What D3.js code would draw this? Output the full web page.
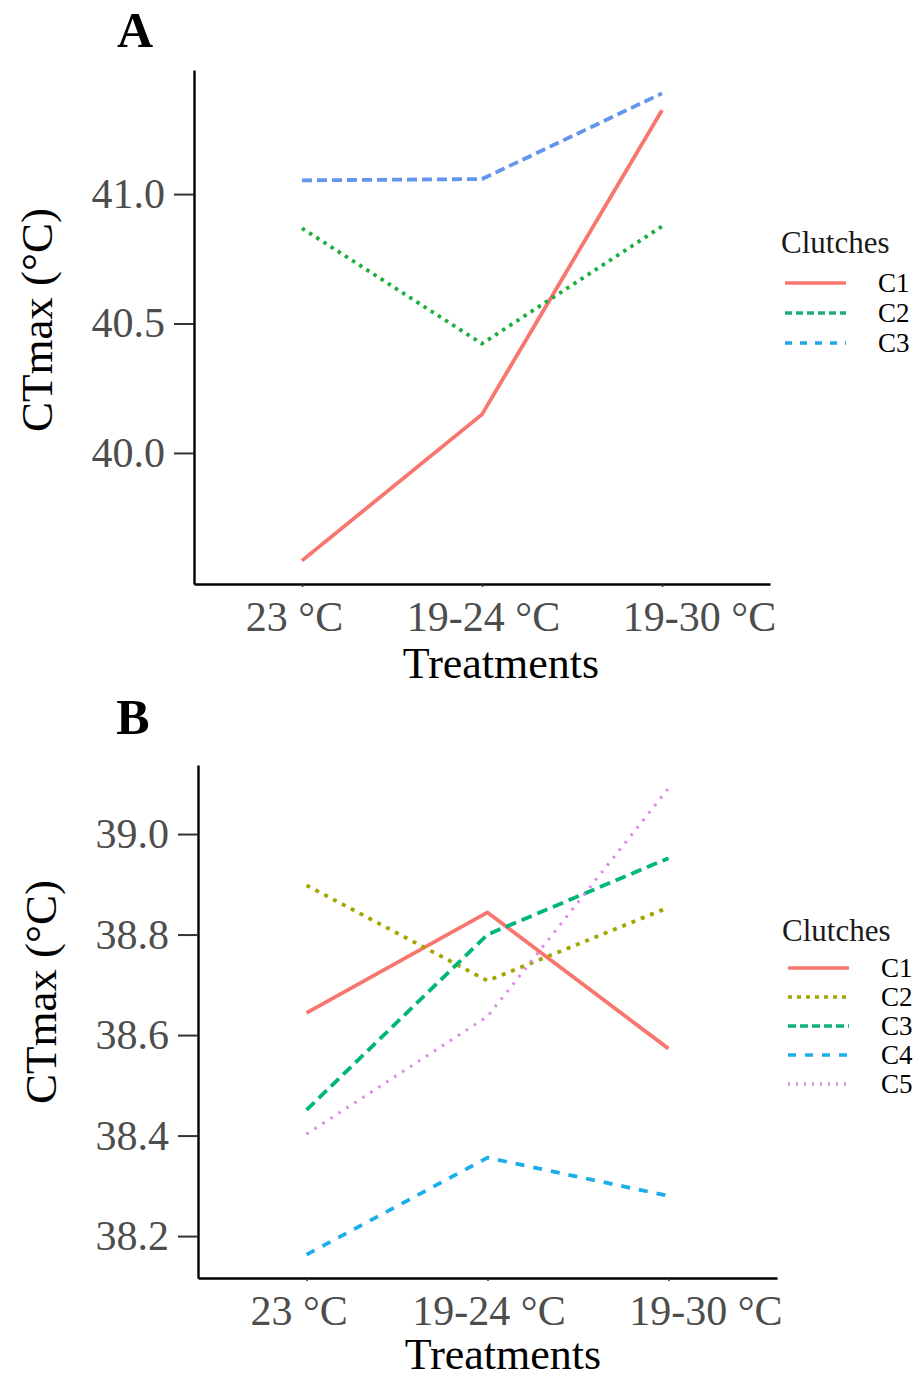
<!DOCTYPE html>
<html>
<head>
<meta charset="utf-8">
<script src="https://cdn.jsdelivr.net/npm/d3@7"></script>
<style>
  html, body { margin: 0; padding: 0; background: #fff; }
  svg { display: block; }
  text { font-family: "Liberation Serif", "DejaVu Serif", serif; }
</style>
</head>
<body>
<svg id="fig" width="923" height="1380"></svg>
<script>
// Treatments on the x axis (shared by both panels)
const treatments = ["23 °C", "19-24 °C", "19-30 °C"];

// Panel A: mean CTmax per clutch
const clutchesA = ["C1", "C2", "C3"];
const panelA_C1 = [39.584, 40.149, 41.324];
const panelA_C2 = [40.868, 40.422, 40.875];
const panelA_C3 = [41.053, 41.058, 41.389];
const ticksA = [40.0, 40.5, 41.0];

// Panel B: mean CTmax per clutch
const clutchesB = ["C1", "C2", "C3", "C4", "C5"];
const panelB_C1 = [38.644, 38.844, 38.573];
const panelB_C2 = [38.898, 38.708, 38.854];
const panelB_C3 = [38.451, 38.800, 38.952];
const panelB_C4 = [38.163, 38.356, 38.280];
const panelB_C5 = [38.403, 38.637, 39.091];
const ticksB = [38.2, 38.4, 38.6, 38.8, 39.0];

// ---- styling ----
const tickFmt = d3.format(".1f");
const labelNudge = [-8, 1, 37];   // horizontal shift of each treatment label

const styleA = [
  { line: "#F8766D", dash: null,  key: "#F8766D", keyDash: null },
  { line: "#1DAF3E", dash: "3.5,5", key: "#1DB07A", keyDash: "7,4" },
  { line: "#6495ED", dash: "10,5", key: "#22A8E4", keyDash: "7,8" }
];
const styleB = [
  { line: "#F8766D", dash: null,  key: "#F8766D", keyDash: null },
  { line: "#A3A500", dash: "4,6", key: "#A3A500", keyDash: "4,5" },
  { line: "#00B67A", dash: "11,6", key: "#12B07A", keyDash: "8,4" },
  { line: "#1BAEEA", dash: "9,9", key: "#1BAEEA", keyDash: "8,9" },
  { line: "#DC86E6", dash: "2.5,7", key: "#D88AE4", keyDash: "2,6", width: 3 }
];

const svg = d3.select("#fig");
svg.append("rect").attr("width", 923).attr("height", 1380).attr("fill", "#fff");

function ggExpand(values) {
  const [lo, hi] = d3.extent(values);
  const pad = (hi - lo) * 0.05;
  return [lo - pad, hi + pad];
}

function drawPanel(cfg) {
  const g = svg.append("g");
  const x = d3.scalePoint().domain(treatments).range([cfg.left, cfg.right]).padding(0.6);
  const y = d3.scaleLinear().domain(ggExpand(cfg.series.flat())).range([cfg.bottom, cfg.top]);

  // series
  const line = d3.line().x((d, i) => x(treatments[i])).y(d => y(d));
  cfg.series.forEach((vals, k) => {
    const s = cfg.styles[k];
    g.append("path")
      .datum(vals)
      .attr("d", line)
      .attr("fill", "none")
      .attr("stroke", s.line)
      .attr("stroke-width", s.width || 3.8)
      .attr("stroke-dasharray", s.dash)
      .attr("stroke-linejoin", "round");
  });

  // y axis
  const yAxis = g.append("g")
    .attr("transform", `translate(${cfg.left},0)`)
    .call(d3.axisLeft(y).tickValues(cfg.ticks).tickFormat(tickFmt)
      .tickSize(20).tickSizeOuter(0).tickPadding(9));
  yAxis.select(".domain").attr("stroke", "#000").attr("stroke-width", 2.4);
  yAxis.selectAll(".tick line").attr("stroke", "#333").attr("stroke-width", 2);
  yAxis.selectAll(".tick text").attr("fill", "#4D4D4D")
    .style("font-size", "42px").style("font-family", "Liberation Serif");

  // x axis
  const xAxis = g.append("g")
    .attr("transform", `translate(0,${cfg.bottom})`)
    .call(d3.axisBottom(x).tickSize(3).tickSizeOuter(0).tickPadding(14));
  xAxis.select(".domain").attr("stroke", "#000").attr("stroke-width", 2.4);
  xAxis.selectAll(".tick line").attr("stroke", "#333").attr("stroke-width", 1.5);
  xAxis.selectAll(".tick text").attr("fill", "#4D4D4D")
    .attr("dx", (d, i) => labelNudge[i])
    .style("font-size", "42px").style("font-family", "Liberation Serif");

  // axis titles
  g.append("text")
    .attr("x", cfg.xTitle[0]).attr("y", cfg.xTitle[1])
    .attr("text-anchor", "middle")
    .style("font-size", "44px").attr("fill", "#000")
    .text("Treatments");
  g.append("text")
    .attr("transform", `translate(${cfg.yTitle[0]},${cfg.yTitle[1]}) rotate(-90)`)
    .attr("text-anchor", "middle")
    .style("font-size", "45px").attr("fill", "#000")
    .text("CTmax (°C)");

  // panel tag
  g.append("text")
    .attr("x", cfg.tag[0]).attr("y", cfg.tag[1])
    .attr("text-anchor", "middle")
    .style("font-size", "50px").style("font-weight", "bold").attr("fill", "#000")
    .text(cfg.tagText);

  // legend
  const lg = g.append("g").attr("transform", `translate(${cfg.legend[0]},${cfg.legend[1]})`);
  lg.append("text").attr("x", 0).attr("y", 0)
    .style("font-size", "31px").attr("fill", "#1a1a1a").text("Clutches");
  cfg.names.forEach((name, k) => {
    const s = cfg.styles[k];
    const ky = cfg.keyY0 + k * cfg.keyStep;
    lg.append("line")
      .attr("x1", cfg.keyX[0]).attr("x2", cfg.keyX[1])
      .attr("y1", ky).attr("y2", ky)
      .attr("stroke", s.key).attr("stroke-width", 3.6)
      .attr("stroke-dasharray", s.keyDash);
    lg.append("text")
      .attr("x", cfg.keyX[1] + 32).attr("y", ky)
      .attr("dy", "0.35em")
      .style("font-size", "27px").attr("fill", "#000")
      .text(name);
  });
}

drawPanel({
  series: [panelA_C1, panelA_C2, panelA_C3],
  names: clutchesA, styles: styleA, ticks: ticksA,
  left: 194, right: 770, top: 70, bottom: 584,
  xTitle: [501, 678], yTitle: [52, 320],
  tag: [135, 47], tagText: "A",
  legend: [781, 253], keyX: [4, 65], keyY0: 30, keyStep: 30
});

drawPanel({
  series: [panelB_C1, panelB_C2, panelB_C3, panelB_C4, panelB_C5],
  names: clutchesB, styles: styleB, ticks: ticksB,
  left: 198, right: 777, top: 765, bottom: 1278,
  xTitle: [503, 1369], yTitle: [56, 992],
  tag: [133, 734], tagText: "B",
  legend: [782, 941], keyX: [6, 67], keyY0: 27, keyStep: 29
});
</script>
</body>
</html>
